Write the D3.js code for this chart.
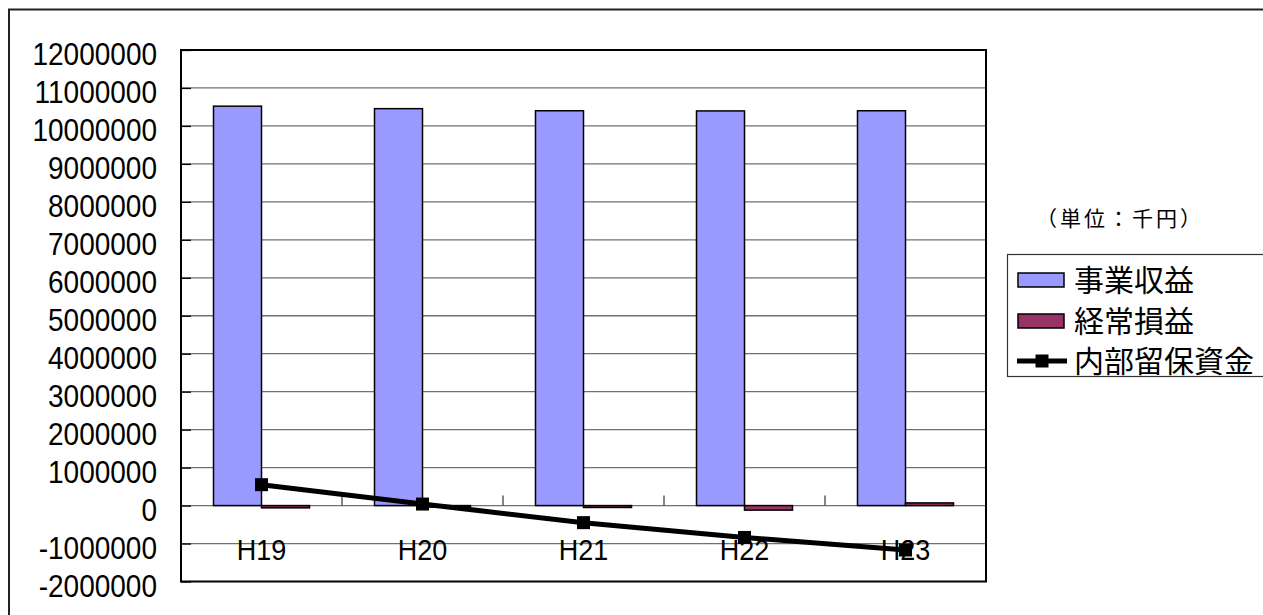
<!DOCTYPE html>
<html>
<head>
<meta charset="utf-8">
<script src="https://cdn.jsdelivr.net/npm/d3@7"></script>
<style>
  html, body { margin: 0; padding: 0; background: #fff; }
  svg { display: block; }
</style>
</head>
<body>
<svg id="chart" width="1263" height="615"></svg>
<script>
// Fiscal years (Heisei era)
const categories = ["H19", "H20", "H21", "H22", "H23"];
// 事業収益 (operating revenue), thousand yen
const revenue = [10520000, 10455000, 10400000, 10395000, 10400000];
// 経常損益 (ordinary profit / loss), thousand yen
const ordinaryProfit = [-60000, -40000, -50000, -120000, 70000];
// 内部留保資金 (internal reserve funds), thousand yen
const reserveFunds = [550000, 40000, -450000, -840000, -1170000];
// Value axis ticks
const yTicks = [-2000000, -1000000, 0, 1000000, 2000000, 3000000, 4000000, 5000000,
                6000000, 7000000, 8000000, 9000000, 10000000, 11000000, 12000000];
const seriesNames = ["事業収益", "経常損益", "内部留保資金"];
const unitLabel = "（単位：千円）";

const colors = { revenue: "#9999FF", profit: "#993366", line: "#000000" };
const latin = "'Liberation Sans', Arial, sans-serif";
const cjk = "'Noto Sans CJK JP', 'Noto Sans CJK SC', sans-serif";

const svg = d3.select("#chart");
const plot = { left: 181, right: 986, top: 50, bottom: 581.5 };

// Outer chart frame
svg.append("rect")
  .attr("x", 9).attr("y", 9.5).attr("width", 1270).attr("height", 620)
  .attr("fill", "#fff").attr("stroke", "#222").attr("stroke-width", 2);

const x = d3.scaleBand().domain(categories).range([plot.left, plot.right]).padding(0);
const barW = 48;
const inner = d3.scaleBand().domain(["revenue", "profit"]).range([-barW, barW]).padding(0);
const y = d3.scaleLinear().domain([d3.min(yTicks), d3.max(yTicks)]).range([plot.bottom, plot.top]);
const cx = c => x(c) + x.bandwidth() / 2;

// Horizontal gridlines
svg.append("g").selectAll("line")
  .data(yTicks.filter(v => v !== d3.min(yTicks) && v !== d3.max(yTicks)))
  .join("line")
  .attr("x1", plot.left).attr("x2", plot.right)
  .attr("y1", d => y(d)).attr("y2", d => y(d))
  .attr("stroke", "#707070").attr("stroke-width", 1.3);

// Category axis tick marks at band boundaries, rising from the zero line
svg.append("g").selectAll("line")
  .data(categories.slice(1))
  .join("line")
  .attr("x1", d => x(d)).attr("x2", d => x(d))
  .attr("y1", y(0)).attr("y2", y(0) - 10)
  .attr("stroke", "#444").attr("stroke-width", 1.3);

// Value axis
const yAxis = svg.append("g")
  .attr("transform", `translate(${plot.left},0)`)
  .call(d3.axisLeft(y).tickValues(yTicks).tickFormat(d => String(d))
    .tickSizeInner(-10).tickSizeOuter(0).tickPadding(24));
yAxis.select(".domain").remove();
yAxis.selectAll(".tick line").attr("stroke", "#000").attr("stroke-width", 1.3);
yAxis.selectAll(".tick text")
  .attr("font-family", latin).attr("font-size", 28).attr("fill", "#000")
  .attr("dy", null).attr("y", 13.6)
  .attr("transform", "scale(1,1.1)");

// Revenue bars
svg.append("g").selectAll("rect")
  .data(categories)
  .join("rect")
  .attr("x", (c) => cx(c) + inner("revenue"))
  .attr("width", inner.bandwidth())
  .attr("y", (c, i) => y(Math.max(0, revenue[i])))
  .attr("height", (c, i) => Math.abs(y(revenue[i]) - y(0)))
  .attr("fill", colors.revenue).attr("stroke", "#000").attr("stroke-width", 1.5);

// Ordinary profit bars
svg.append("g").selectAll("rect")
  .data(categories)
  .join("rect")
  .attr("x", (c) => cx(c) + inner("profit"))
  .attr("width", inner.bandwidth())
  .attr("y", (c, i) => y(Math.max(0, ordinaryProfit[i])))
  .attr("height", (c, i) => Math.abs(y(ordinaryProfit[i]) - y(0)))
  .attr("fill", colors.profit).attr("stroke", "#000").attr("stroke-width", 1.5);

// Plot area frame
svg.append("rect")
  .attr("x", plot.left).attr("y", plot.top)
  .attr("width", plot.right - plot.left).attr("height", plot.bottom - plot.top)
  .attr("fill", "none").attr("stroke", "#000").attr("stroke-width", 2);

// Category labels
svg.append("g").selectAll("text")
  .data(categories)
  .join("text")
  .attr("transform", c => `translate(${cx(c)},560) scale(1,1.1)`)
  .attr("text-anchor", "middle")
  .attr("font-family", latin).attr("font-size", 27).attr("fill", "#000")
  .text(d => d);

// Reserve funds line with square markers
const line = d3.line().x((d, i) => cx(categories[i])).y(d => y(d));
svg.append("path")
  .datum(reserveFunds)
  .attr("d", line)
  .attr("fill", "none").attr("stroke", colors.line).attr("stroke-width", 5);
svg.append("g").selectAll("rect")
  .data(reserveFunds)
  .join("rect")
  .attr("x", (d, i) => cx(categories[i]) - 6.5)
  .attr("y", d => y(d) - 6.5)
  .attr("width", 13).attr("height", 13)
  .attr("fill", "#000");

// Unit note
svg.append("text")
  .attr("x", 1120).attr("y", 226)
  .attr("text-anchor", "middle")
  .attr("font-family", cjk).attr("font-size", 21).attr("letter-spacing", 3).attr("fill", "#000")
  .text(unitLabel);

// Legend
const lg = svg.append("g");
lg.append("rect")
  .attr("x", 1007.5).attr("y", 254.5).attr("width", 270).attr("height", 122)
  .attr("fill", "#fff").attr("stroke", "#333").attr("stroke-width", 1.2);
const rowY = [280, 321, 361];
lg.append("rect").attr("x", 1018).attr("y", rowY[0] - 7).attr("width", 46).attr("height", 14)
  .attr("fill", colors.revenue).attr("stroke", "#000").attr("stroke-width", 1.5);
lg.append("rect").attr("x", 1018).attr("y", rowY[1] - 7).attr("width", 46).attr("height", 14)
  .attr("fill", colors.profit).attr("stroke", "#000").attr("stroke-width", 1.5);
lg.append("line").attr("x1", 1017).attr("x2", 1067).attr("y1", rowY[2]).attr("y2", rowY[2])
  .attr("stroke", "#000").attr("stroke-width", 5);
lg.append("rect").attr("x", 1035.5).attr("y", rowY[2] - 6.5).attr("width", 13).attr("height", 13)
  .attr("fill", "#000");
lg.selectAll("text.item")
  .data(seriesNames)
  .join("text")
  .attr("class", "item")
  .attr("x", 1074).attr("y", (d, i) => rowY[i])
  .attr("dy", "0.36em")
  .attr("font-family", cjk).attr("font-size", 30).attr("fill", "#000")
  .text(d => d);
</script>
</body>
</html>
